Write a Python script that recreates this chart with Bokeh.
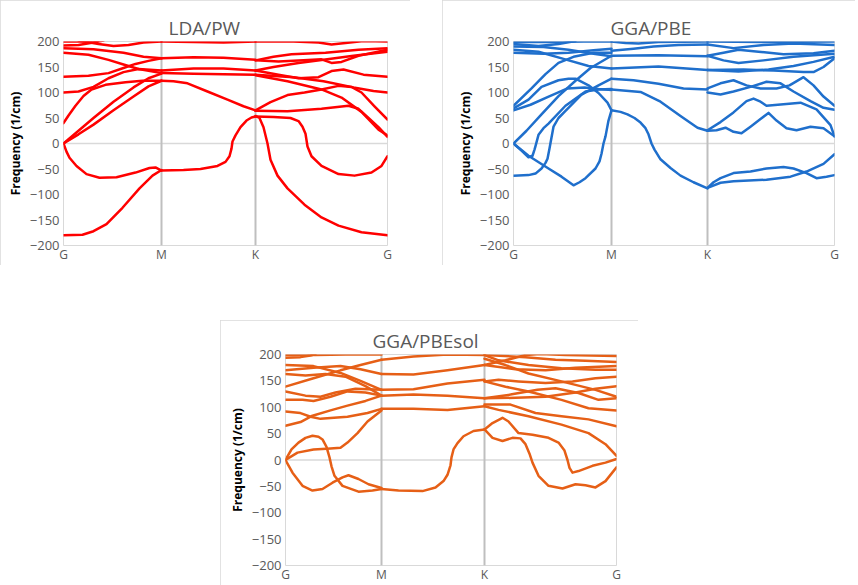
from bokeh.plotting import figure
from bokeh.models import Range1d, FixedTicker, Span, Spacer
from bokeh.layouts import row, column
from bokeh.embed import file_html
from bokeh.resources import INLINE

# ---------------- data ----------------
kpath_labels = ["G", "M", "K", "G"]
freq_ticks = [-200, -150, -100, -50, 0, 50, 100, 150, 200]

lda_ticks = [0, 98, 192, 324]
pbe_ticks = [0, 98, 194, 321]
sol_ticks = [0, 96, 199, 331]

# LDA/PW bands: lists of (k-path position, frequency 1/cm)
lda_bands = [
    [(0,-180),(19,-179),(30,-172),(43,-158),(59,-126),(76,-88),(89,-63),(98,-52)],
    [(0,0),(3,-16),(6,-28),(13,-44),(23,-60),(36,-67),(53,-66),(72,-57),(86,-48),(92,-47),(98,-53)],
    [(98,-53),(120,-52),(137,-50),(154,-44),(162,-36),(166,-25),(168,-10),(169,4),(172,16),(177,32),(183,45),(188,51),(192,53)],
    [(192,54),(196,50),(200,32),(204,0),(207,-32),(214,-63),(224,-88),(241,-120),(258,-145),(275,-161),(298,-174),(324,-180)],
    [(192,53),(210,52),(227,50),(235,44),(239,33),(242,19),(244,-6),(248,-25),(258,-44),(275,-60),(291,-63),(308,-57),(318,-44),(324,-25)],
    [(0,40),(5,55),(12,74),(20,93),(28,106),(42,115),(62,120),(79,123),(98,123)],
    [(0,0),(15,25),(30,50),(50,82),(70,110),(85,128),(98,137)],
    [(0,0),(15,18),(30,37),(50,65),(70,92),(85,112),(98,123)],
    [(98,123),(110,122),(124,118),(144,102),(164,86),(180,73),(192,65)],
    [(0,100),(15,102),(30,111),(45,128),(60,140),(75,146),(98,143)],
    [(0,131),(25,133),(45,138),(60,148),(72,156),(85,162),(98,167)],
    [(0,178),(25,174),(45,164),(60,155),(75,146),(98,138)],
    [(0,187),(30,185),(60,178),(80,170),(98,167)],
    [(0,192),(15,193),(30,198),(40,202)],
    [(15,202),(35,195),(50,191),(65,193),(80,198),(98,200)],
    [(0,200),(20,200),(35,202)],
    [(98,200),(130,199),(160,198),(192,200)],
    [(98,167),(130,169),(160,168),(192,164)],
    [(98,143),(130,147),(160,147),(192,143)],
    [(98,138),(130,137),(160,136),(192,135)],
    [(192,200),(230,200),(255,198),(268,194),(282,197),(300,201),(324,200)],
    [(192,163),(210,170),(228,175),(262,178),(295,184),(324,187)],
    [(192,163),(215,161),(240,163),(258,165),(268,158),(278,160),(295,172),(324,184)],
    [(192,143),(210,150),(235,158),(260,164),(290,172),(324,180)],
    [(192,143),(215,135),(235,128),(255,130),(268,142),(280,145),(300,135),(324,131)],
    [(192,134),(224,122),(258,106),(278,90),(298,62),(315,27),(324,16)],
    [(192,65),(207,81),(224,95),(241,100),(258,106),(275,113),(288,111),(298,100),(311,73),(324,47)],
    [(192,64),(224,63),(258,68),(285,74),(295,68),(305,50),(315,32),(324,13)],
    [(192,135),(230,130),(260,122),(290,110),(310,103),(324,100)],
]

# GGA/PBE bands
pbe_bands = [
    [(0,0),(15,-24),(35,-49),(48,-65),(60,-82),(66,-76),(72,-68),(82,-49),(86,-35),(88,-20),(90,0),(92,14),(95,45),(98,65)],
    [(98,65),(107,62),(114,57),(121,50),(127,41),(132,30),(135,18),(138,0),(141,-12),(147,-31),(157,-48),(167,-63),(180,-76),(194,-88)],
    [(194,-87),(200,-76),(207,-68),(220,-58),(237,-55),(253,-49),(270,-46),(280,-49),(293,-58),(303,-68),(313,-65),(321,-62)],
    [(194,-87),(207,-77),(220,-74),(253,-71),(277,-65),(293,-55),(310,-40),(321,-21)],
    [(0,-63),(15,-62),(22,-59),(28,-49),(32,-38),(34,-30),(36,-10),(37,1),(40,33),(45,50),(52,64),(68,96),(85,114),(98,127)],
    [(0,0),(4,-7),(8,-14),(15,-27),(19,-24),(21,-12),(22,-5),(25,17),(30,30),(35,39),(52,74),(72,102),(85,106),(98,107)],
    [(0,0),(13,25),(28,57),(45,93),(62,123),(77,148),(98,172)],
    [(0,74),(18,108),(32,136),(45,158),(60,170),(80,178),(98,178)],
    [(0,69),(15,86),(28,111),(45,124),(55,127),(62,127),(75,114),(85,99),(94,80),(98,65)],
    [(0,65),(17,76),(34,91),(54,108),(71,110),(85,107),(98,105)],
    [(0,199),(40,199),(70,200),(98,200)],
    [(0,195),(25,191),(45,195),(62,201)],
    [(0,190),(30,189),(55,184),(80,176),(98,171)],
    [(0,184),(25,180),(50,166),(75,152),(98,147)],
    [(0,178),(30,176),(55,178),(80,183),(98,186)],
    [(98,200),(112,197),(125,196),(145,199),(194,200)],
    [(98,182),(120,186),(140,190),(165,193),(194,194)],
    [(98,172),(145,173),(194,171)],
    [(98,147),(145,151),(194,144)],
    [(98,127),(120,124),(145,117),(170,108),(194,106)],
    [(98,106),(127,101),(147,82),(167,54),(184,31),(194,25)],
    [(194,25),(203,26),(212,31),(220,23),(228,20),(237,33),(247,48),(255,60),(263,45),(273,30),(283,26),(297,33),(310,30),(321,14)],
    [(194,26),(207,42),(220,61),(233,83),(240,88),(247,82),(253,74),(270,77),(287,80),(303,67),(317,36),(321,14)],
    [(194,108),(207,118),(220,124),(233,114),(247,108),(263,108),(276,114),(290,130),(300,114),(310,92),(321,74)],
    [(194,100),(207,96),(220,102),(237,111),(253,121),(267,118),(280,102),(297,83),(310,70),(321,66)],
    [(194,200),(250,199),(321,200)],
    [(194,194),(220,187),(250,193),(280,196),(321,193)],
    [(194,172),(210,178),(225,184),(245,180),(270,175),(300,177),(321,182)],
    [(194,172),(210,163),(225,158),(250,163),(280,170),(321,176)],
    [(194,144),(230,145),(260,143),(290,140),(300,140),(310,150),(321,167)],
    [(194,144),(225,141),(255,145),(280,152),(300,160),(321,170)],
]

# GGA/PBEsol bands
sol_bands = [
    [(0,0),(12,14),(28,20),(45,22),(55,23),(62,33),(72,51),(82,73),(96,94)],
    [(0,0),(6,20),(13,33),(20,42),(27,46),(33,44),(37,39),(41,25),(44,5),(46,-12),(49,-30),(57,-49),(73,-60),(87,-58),(96,-55)],
    [(0,0),(7,-24),(17,-49),(27,-58),(37,-55),(47,-43),(57,-33),(63,-29),(73,-36),(83,-46),(96,-53)],
    [(96,-55),(113,-58),(137,-59),(150,-52),(158,-40),(162,-28),(165,-10),(166,5),(168,20),(172,32),(178,45),(188,55),(199,58)],
    [(199,58),(207,70),(217,80),(223,73),(233,51),(247,48),(263,42),(273,33),(279,18),(282,0),(284,-15),(287,-24),(293,-21),(307,-11),(320,-5),(331,2)],
    [(199,58),(203,50),(207,42),(217,36),(227,42),(235,41),(240,30),(244,12),(247,-5),(253,-30),(263,-49),(277,-54),(290,-46),(300,-48),(310,-52),(320,-40),(331,-14)],
    [(199,102),(213,95),(243,83),(276,67),(303,51),(320,30),(331,8)],
    [(96,190),(128,196),(162,200),(199,199)],
    [(96,163),(128,162),(162,170),(199,180)],
    [(96,133),(128,134),(162,145),(199,152)],
    [(96,122),(128,124),(162,122),(199,117)],
    [(96,97),(128,97),(162,95),(199,102)],
    [(0,199),(30,199),(60,200),(96,200)],
    [(0,194),(15,195),(25,198),(30,201)],
    [(0,170),(28,175),(55,178),(75,172),(96,163)],
    [(0,163),(20,160),(40,163),(60,158),(80,140),(96,122)],
    [(0,180),(28,178),(55,165),(75,150),(96,133)],
    [(0,139),(28,155),(55,170),(75,180),(96,190)],
    [(0,130),(20,122),(35,120),(50,128),(70,135),(96,133)],
    [(0,114),(17,114),(28,112),(45,120),(62,130),(80,128),(96,122)],
    [(0,92),(15,89),(25,82),(35,78),(62,82),(82,89),(96,97)],
    [(0,65),(15,72),(27,84),(45,94),(62,103),(80,112),(96,122)],
    [(199,199),(213,189),(243,180),(276,174),(310,171),(331,171)],
    [(199,192),(220,180),(243,164),(276,149),(310,133),(331,120)],
    [(199,180),(220,189),(240,199),(255,201),(280,199),(331,197)],
    [(199,149),(213,152),(233,149),(260,146),(287,149),(310,155),(331,158)],
    [(199,149),(220,139),(243,130),(276,114),(303,98),(331,94)],
    [(199,117),(225,124),(252,133),(270,136),(293,127),(313,114),(331,117)],
    [(199,117),(230,118),(260,120),(290,128),(310,135),(331,140)],
    [(199,105),(225,105),(250,89),(276,83),(303,77),(331,64)],
    [(199,199),(240,195),(270,190),(300,188),(331,186)],
    [(199,180),(230,172),(260,170),(290,175),(331,178)],
]

# ---------------- drawing ----------------
FONT = "Open Sans"
GRAY_TXT = "#595959"


def make_panel(title, bands, ticks, color, width, height, bl, br, bt, bb, title_offset):
    p = figure(width=width, height=height, output_backend="svg", toolbar_location=None,
               x_range=Range1d(ticks[0], ticks[-1]), y_range=Range1d(-200, 200),
               min_border_left=bl, min_border_right=br, min_border_top=bt, min_border_bottom=bb,
               styles={"outline": "1px solid #d9d9d9", "outline-offset": "-1px"})
    p.title.text = title
    p.title.align = "left"
    p.title.offset = title_offset
    p.title.standoff = 1
    p.title.text_font = FONT
    p.title.text_font_size = "19px"
    p.title.text_font_style = "normal"
    p.title.text_color = GRAY_TXT

    p.background_fill_color = "white"
    p.border_fill_color = "white"
    p.outline_line_color = "#d9d9d9"
    p.outline_line_width = 1
    p.xgrid.visible = False
    p.ygrid.visible = False

    for ax in (p.xaxis, p.yaxis):
        ax.axis_line_color = None
        ax.major_tick_line_color = None
        ax.minor_tick_line_color = None
        ax.major_tick_out = 0
        ax.major_tick_in = 0
        ax.minor_tick_out = 0
        ax.minor_tick_in = 0
        ax.major_label_text_font = FONT
        ax.major_label_text_color = GRAY_TXT

    p.yaxis.ticker = FixedTicker(ticks=freq_ticks)
    p.yaxis.major_label_text_font_size = "13px"
    p.yaxis.major_label_standoff = 4
    p.yaxis.axis_label = "Frequency (1/cm)"
    p.yaxis.axis_label_text_font = FONT
    p.yaxis.axis_label_text_font_size = "12px"
    p.yaxis.axis_label_text_font_style = "bold"
    p.yaxis.axis_label_text_color = "black"
    p.yaxis.axis_label_standoff = 3

    p.xaxis.ticker = FixedTicker(ticks=ticks)
    p.xaxis.major_label_overrides = {t: lab for t, lab in zip(ticks, kpath_labels)}
    p.xaxis.major_label_text_font_size = "12px"
    p.xaxis.major_label_standoff = 0

    p.add_layout(Span(location=0, dimension="width", line_color="#d9d9d9",
                      line_width=1.5, level="underlay"))
    for t in ticks[1:-1]:
        p.add_layout(Span(location=t, dimension="height", line_color="#bfbfbf",
                          line_width=2, level="underlay"))

    xs = [[pt[0] for pt in b] for b in bands]
    ys = [[pt[1] for pt in b] for b in bands]
    p.multi_line(xs, ys, line_color=color, line_width=2.5,
                 line_join="round", line_cap="round")
    return p


f1 = make_panel("LDA/PW", lda_bands, lda_ticks, "#ff0000", 410, 265, 63, 23, 40, 14, 105)
f2 = make_panel("GGA/PBE", pbe_bands, pbe_ticks, "#1f6fcc", 413, 265, 71, 21, 41, 13, 97)
f3 = make_panel("GGA/PBEsol", sol_bands, sol_ticks, "#e65f16", 418, 265, 65, 22, 34, 18, 87)

layout = column(
    row(f1, Spacer(width=32, height=265), f2),
    Spacer(width=855, height=55),
    row(Spacer(width=220, height=265), f3),
)

open("out.html", "w").write(file_html(layout, INLINE))
